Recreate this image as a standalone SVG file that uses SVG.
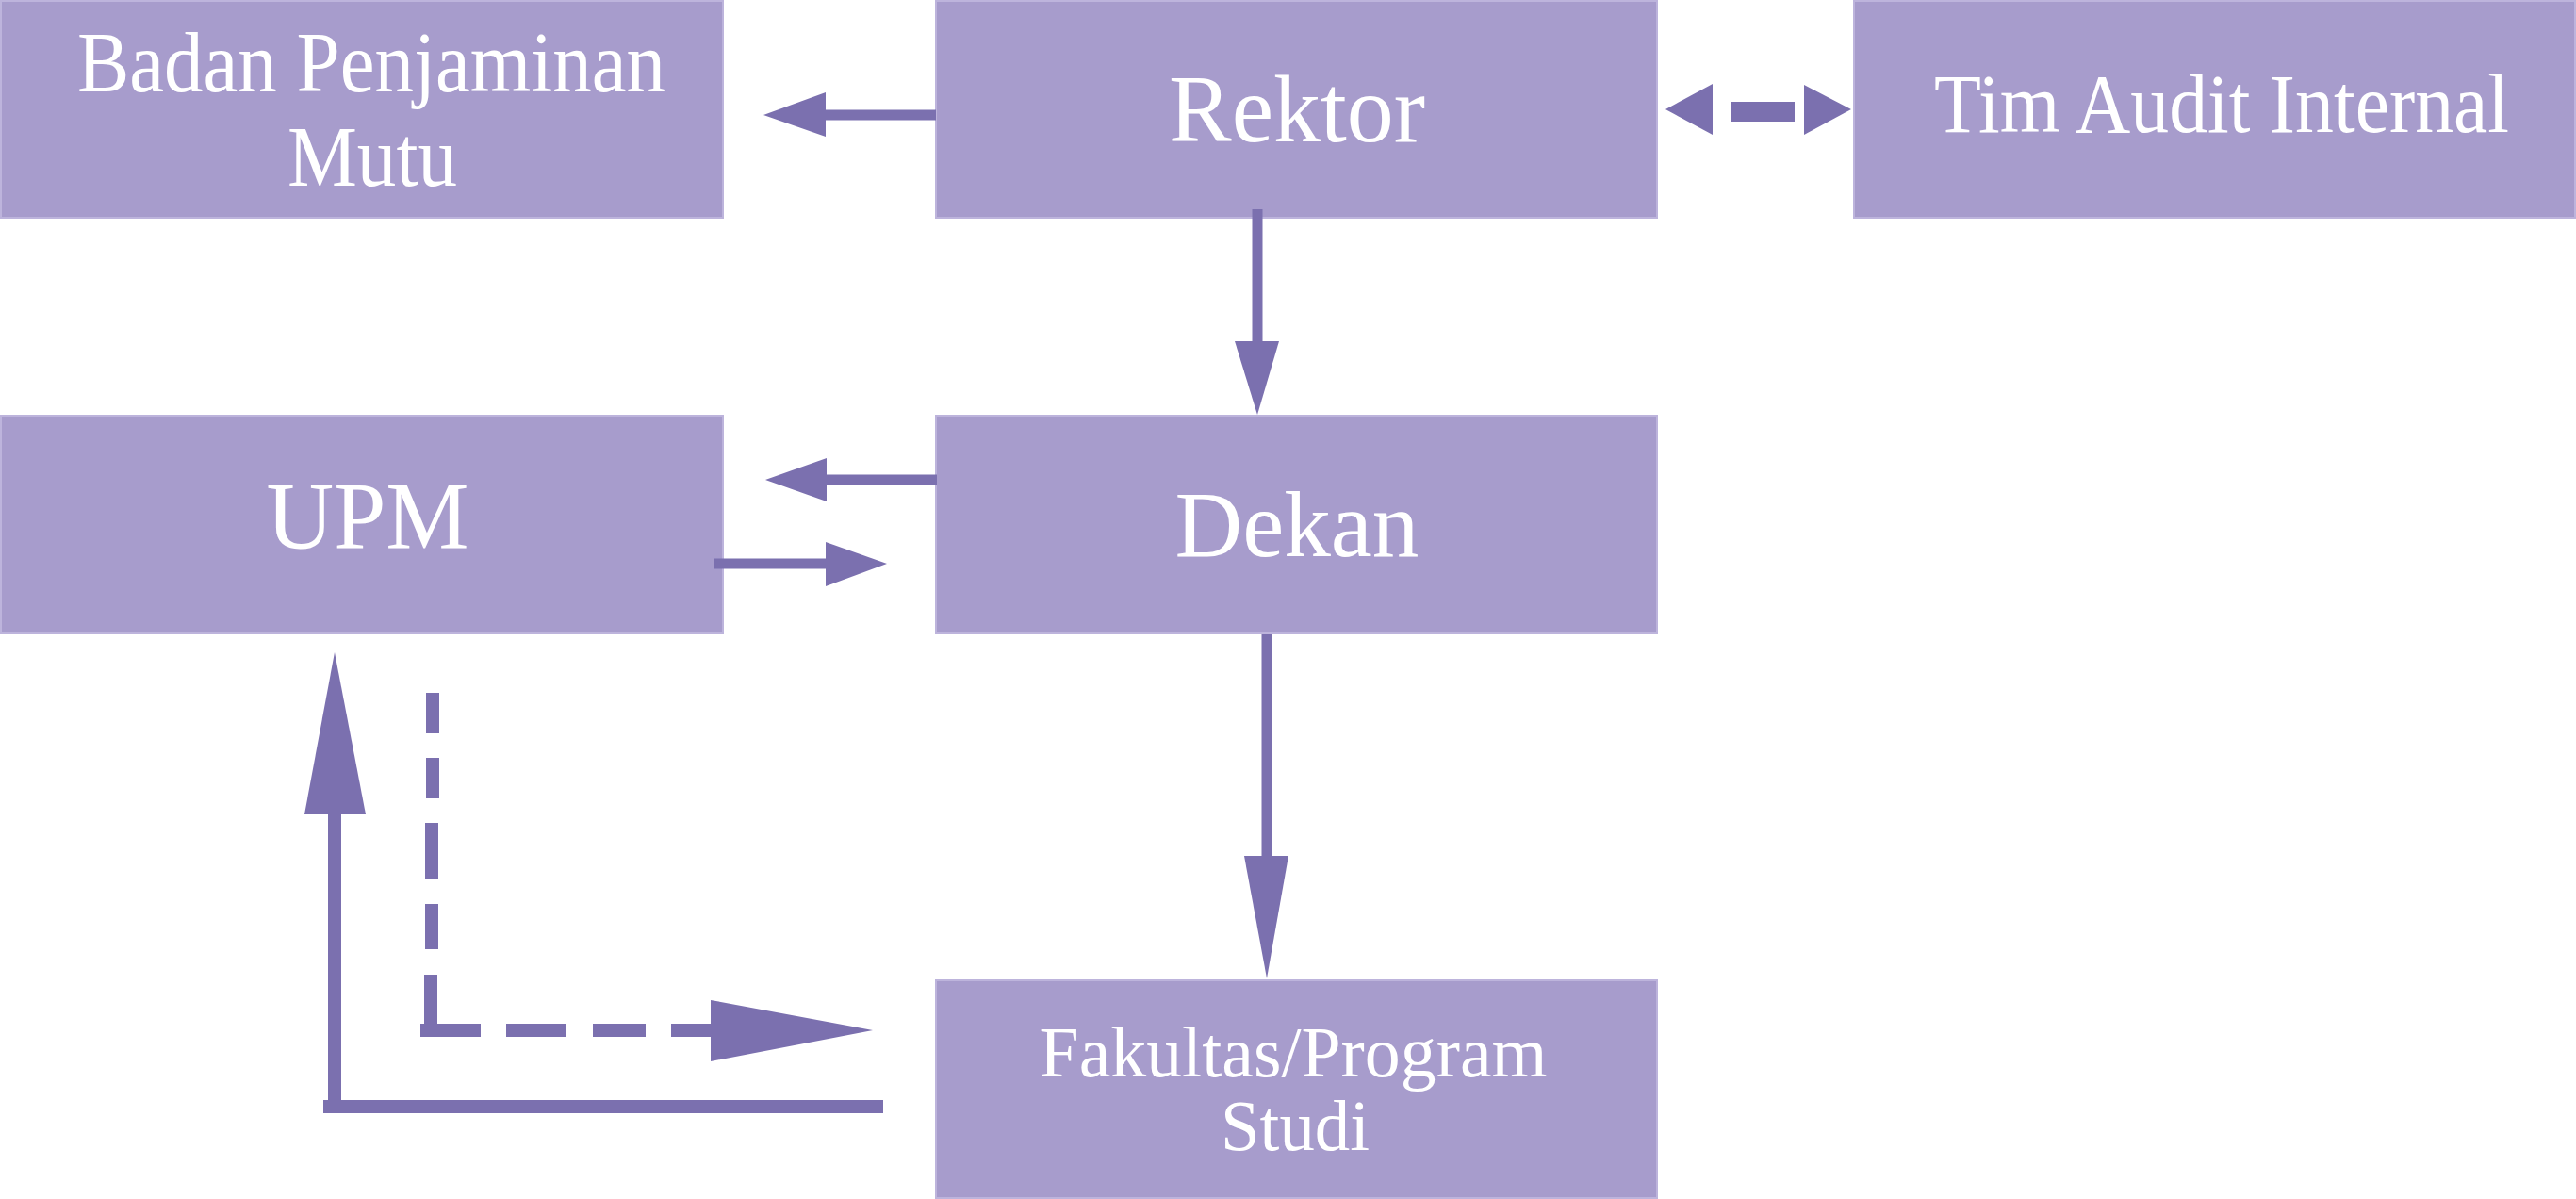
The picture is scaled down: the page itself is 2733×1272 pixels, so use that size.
<svg xmlns="http://www.w3.org/2000/svg" width="2733" height="1272" viewBox="0 0 2733 1272">
<style>
.box{fill:#A79CCC;stroke:#BDB4DC;stroke-width:2}
.lbl{fill:#FFFFFF;font-family:"Liberation Serif","Times New Roman",serif;text-anchor:middle}
.ln{stroke:#7B70AF;fill:none;stroke-linecap:butt}
.hd{fill:#7B70AF;stroke:none}
</style>
<rect width="2733" height="1272" fill="#FFFFFF"/>
<g id="badan">
<rect class="box" x="1" y="1" width="766" height="230"/>
<text class="lbl" x="394" y="97" font-size="91" textLength="624" lengthAdjust="spacingAndGlyphs">Badan Penjaminan</text>
<text class="lbl" x="395" y="197" font-size="91" textLength="180" lengthAdjust="spacingAndGlyphs">Mutu</text>
</g>
<g id="rektor">
<rect class="box" x="993" y="1" width="765" height="230"/>
<text class="lbl" x="1376" y="150" font-size="101" textLength="272" lengthAdjust="spacingAndGlyphs">Rektor</text>
</g>
<g id="tim-audit">
<rect class="box" x="1967" y="1" width="765" height="230"/>
<text class="lbl" x="2357" y="140" font-size="88" textLength="610" lengthAdjust="spacingAndGlyphs">Tim Audit Internal</text>
</g>
<g id="upm">
<rect class="box" x="1" y="441" width="766" height="231"/>
<text class="lbl" x="390" y="582" font-size="101" textLength="215" lengthAdjust="spacingAndGlyphs">UPM</text>
</g>
<g id="dekan">
<rect class="box" x="993" y="441" width="765" height="231"/>
<text class="lbl" x="1376" y="590" font-size="100" textLength="259" lengthAdjust="spacingAndGlyphs">Dekan</text>
</g>
<g id="fakultas">
<rect class="box" x="993" y="1040" width="765" height="231"/>
<text class="lbl" x="1372" y="1142" font-size="76" textLength="539" lengthAdjust="spacingAndGlyphs">Fakultas/Program</text>
<text class="lbl" x="1374" y="1220" font-size="76" textLength="158" lengthAdjust="spacingAndGlyphs">Studi</text>
</g>
<g id="connectors">
<!-- Rektor to Badan -->
<path class="ln" d="M993,122 H875" stroke-width="11"/>
<polygon class="hd" points="876,98 810,122 876,145"/>
<!-- Rektor <-> Tim Audit -->
<polygon class="hd" points="1817,89 1767,116 1817,143"/>
<rect class="hd" x="1837" y="108" width="67" height="21"/>
<polygon class="hd" points="1914,90 1964,116 1914,143"/>
<!-- Rektor to Dekan -->
<path class="ln" d="M1334,222 V363" stroke-width="11"/>
<polygon class="hd" points="1310,362 1334,440 1357,362"/>
<!-- Dekan to UPM -->
<path class="ln" d="M994,509 H876" stroke-width="11"/>
<polygon class="hd" points="877,486 812,509 877,532"/>
<!-- UPM to Dekan -->
<path class="ln" d="M758,598 H877" stroke-width="11"/>
<polygon class="hd" points="876,575 941,598 876,622"/>
<!-- Dekan to Fakultas -->
<path class="ln" d="M1344,673 V909" stroke-width="11"/>
<polygon class="hd" points="1320,908 1344,1038 1367,908"/>
<!-- Fakultas to UPM (solid elbow) -->
<path class="ln" d="M937,1174 H343 M355,1181 V863" stroke-width="14"/>
<polygon class="hd" points="323,864 355,692 388,864"/>
<!-- UPM to Fakultas (dashed elbow) -->
<path class="ln" d="M459,735 V778 M459,804 V847 M458,873 V933 M458,959 V1007 M457,1034 V1100 M446,1093 H510 M537,1093 H601 M629,1093 H685 M712,1093 H755" stroke-width="14"/>
<polygon class="hd" points="754,1061 926,1093 754,1126"/>
</g>
</svg>
